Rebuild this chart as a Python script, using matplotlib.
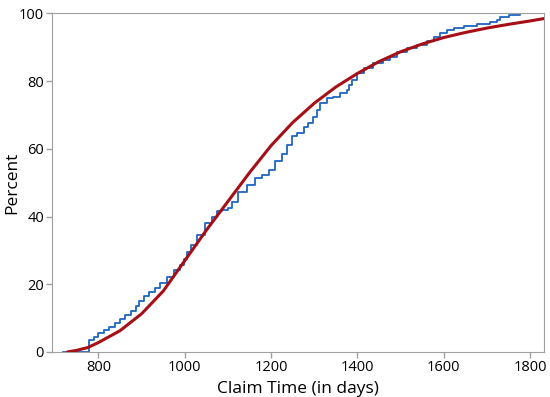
import numpy as np
import matplotlib.pyplot as plt

plt.rcParams['font.family'] = ['Open Sans', 'DejaVu Sans']

# fitted distribution
fit_days = [728, 750, 775, 800, 850, 900, 950, 1000, 1050, 1100, 1150, 1200,
            1250, 1300, 1350, 1400, 1450, 1500, 1550, 1600, 1650, 1700, 1750,
            1800, 1832]
fit_pct = [0, 0.5, 1.3, 2.8, 6.3, 11.3, 18.0, 27.0, 36.0, 44.5, 53.0, 61.0,
           67.8, 73.5, 78.3, 82.3, 85.8, 88.7, 91.0, 92.9, 94.4, 95.7, 96.8,
           97.8, 98.5]

# empirical cdf steps
emp_days = [718, 779, 790, 800, 812, 825, 838, 850, 862, 876, 886, 893, 905,
            916, 931, 943, 958, 974, 988, 997, 1005, 1014, 1028, 1047, 1063,
            1074, 1086, 1100, 1109, 1124, 1144, 1163, 1178, 1194, 1209, 1225,
            1236, 1248, 1260, 1275, 1286, 1298, 1306, 1313, 1329, 1344, 1360,
            1375, 1381, 1387, 1398, 1414, 1437, 1460, 1476, 1491, 1514, 1538,
            1561, 1577, 1592, 1607, 1623, 1646, 1677, 1707, 1723, 1730, 1750,
            1776, 1832]
emp_pct = [0, 3.5, 4.3, 5.5, 6.5, 7.5, 8.7, 9.8, 10.8, 12.0, 13.5, 15.2, 16.5,
           17.8, 18.9, 20.4, 22.2, 24.2, 25.8, 27.5, 29.5, 31.5, 34.5, 38.0, 40.0,
           41.7, 42.0, 42.6, 44.4, 47.4, 49.3, 51.3, 52.3, 53.8, 56.5, 58.5,
           61.2, 63.8, 64.6, 66.6, 67.6, 69.5, 71.5, 73.5, 75.0, 75.4, 76.4,
           77.4, 79.0, 80.4, 82.3, 83.8, 85.3, 86.3, 87.2, 88.7, 89.7, 90.7,
           91.9, 93.0, 94.1, 95.0, 95.8, 96.3, 96.8, 97.4, 98.1, 99.1, 99.6,
           100, 100]

xticks = [800, 1000, 1200, 1400, 1600, 1800]
yticks = [0, 20, 40, 60, 80, 100]

fig = plt.figure(figsize=(5.5, 3.97), dpi=100)
ax = fig.add_axes([0.0951, 0.1134, 0.8939, 0.8526])

ax.plot(emp_days, emp_pct, drawstyle='steps-post', color='#1f66c1', lw=1.3, zorder=2)
ax.plot(fit_days, fit_pct, color='#a50f15', lw=2.2, zorder=3, solid_capstyle='round')

ax.set_xlim(693, 1832)
ax.set_ylim(0, 100)
ax.set_xticks(xticks)
ax.set_yticks(yticks)

for s in ax.spines.values():
    s.set_color('#a0a0a0')
ax.tick_params(colors='#a0a0a0', labelcolor='black', labelsize=10.5, length=4, width=1, pad=2)

ax.set_xlabel('Claim Time (in days)', fontsize=12.5)
ax.set_ylabel('Percent', fontsize=12.5)
ax.xaxis.set_label_coords(0.5, -0.085)
ax.yaxis.set_label_coords(-0.066, 0.5)

fig.savefig('out.png', dpi=100)
